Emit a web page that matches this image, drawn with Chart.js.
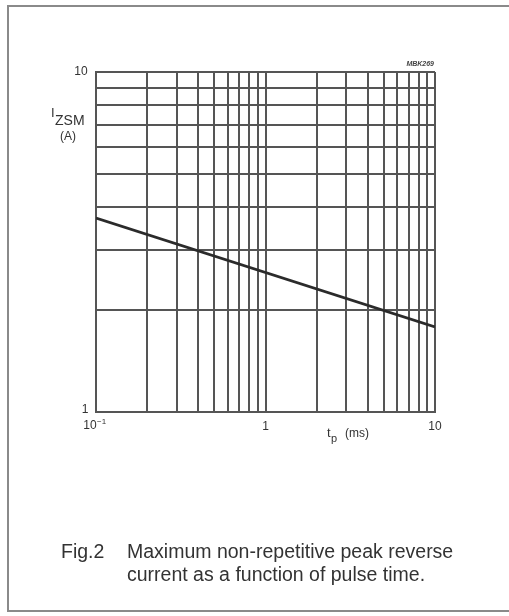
<!DOCTYPE html>
<html>
<head>
<meta charset="utf-8">
<script src="https://cdn.jsdelivr.net/npm/chart.js@4/dist/chart.umd.min.js"></script>
<style>
html,body{margin:0;padding:0;background:#fff;}
#wrap{position:relative;width:509px;height:616px;}
canvas{display:block;}
</style>
</head>
<body>
<div id="wrap"><canvas id="c" width="509" height="616"></canvas></div>
<script>
// Data (log-log straight line)
const pulseTimes = [0.1, 10];          // tp (ms)
const peakCurrent = [3.72, 1.78];      // IZSM (A)
const xGrid = [0.1,0.2,0.3,0.4,0.5,0.6,0.7,0.8,0.9,1,2,3,4,5,6,7,8,9,10];
const yGrid = [1,2,3,4,5,6,7,8,9,10];
const xTickLabels = [{v:1,t:'1'},{v:10,t:'10'}];
const yTickLabels = [{v:10,t:'10'},{v:1,t:'1'}];
const captionLabel = 'Fig.2';
const captionLines = ['Maximum non-repetitive peak reverse','current as a function of pulse time.'];
const chartCode = 'MBK269';

const FONT = '"Liberation Sans", Arial, Helvetica, sans-serif';
const gridColor = '#555555';

const overlay = {
  id: 'overlay',
  afterDraw(chart) {
    const ctx = chart.ctx;
    const xs = chart.scales.x, ys = chart.scales.y;
    const ca = chart.chartArea;
    ctx.save();
    // page frame
    ctx.strokeStyle = '#8a8a8a';
    ctx.lineWidth = 2;
    ctx.beginPath();
    ctx.moveTo(509, 6); ctx.lineTo(8, 6); ctx.lineTo(8, 611); ctx.lineTo(509, 611);
    ctx.stroke();
    ctx.fillStyle = '#333';
    // y tick labels
    ctx.font = '12px ' + FONT;
    ctx.textAlign = 'center'; ctx.textBaseline = 'middle';
    ctx.fillText(yTickLabels[0].t, 81, ys.getPixelForValue(yTickLabels[0].v));
    ctx.fillText(yTickLabels[1].t, 85, ys.getPixelForValue(yTickLabels[1].v) - 2);
    // x tick labels
    const x01 = xs.getPixelForValue(0.1);
    ctx.fillText('10', x01 - 6, ca.bottom + 14);
    ctx.font = '8px ' + FONT;
    ctx.textAlign = 'left';
    ctx.fillText('\u22121', x01 + 1, ca.bottom + 10);
    ctx.font = '12px ' + FONT;
    ctx.textAlign = 'center';
    xTickLabels.forEach(l => {
      ctx.fillText(l.t, xs.getPixelForValue(l.v), ca.bottom + 15);
    });
    // y axis title
    ctx.textAlign = 'left';
    ctx.font = '13px ' + FONT;
    ctx.fillText('I', 51, 113);
    ctx.font = '14px ' + FONT;
    ctx.fillText('ZSM', 55, 121);
    ctx.font = '12px ' + FONT;
    ctx.fillText('(A)', 60, 137);
    // x axis title
    ctx.font = '13px ' + FONT;
    ctx.fillText('t', 327, 433);
    ctx.font = '11px ' + FONT;
    ctx.fillText('p', 331, 439);
    ctx.font = '12px ' + FONT;
    ctx.fillText('(ms)', 345, 434);
    // code
    ctx.font = 'italic bold 7px ' + FONT;
    ctx.textAlign = 'right';
    ctx.fillStyle = '#444';
    ctx.fillText(chartCode, 434, 64);
    // caption
    ctx.fillStyle = '#333';
    ctx.font = '19.5px ' + FONT;
    ctx.textAlign = 'left';
    ctx.fillText(captionLabel, 61, 553);
    ctx.fillText(captionLines[0], 127, 553);
    ctx.fillText(captionLines[1], 127, 576);
    ctx.restore();
  }
};

new Chart(document.getElementById('c'), {
  type: 'line',
  data: {
    datasets: [{
      data: pulseTimes.map((t, i) => ({x: t, y: peakCurrent[i]})),
      borderColor: '#2b2b2b',
      borderWidth: 2.8,
      pointRadius: 0,
      fill: false,
      tension: 0
    }]
  },
  options: {
    responsive: false,
    animation: false,
    devicePixelRatio: 1,
    layout: { padding: { left: 96, top: 72, right: 74, bottom: 204 } },
    plugins: { legend: { display: false }, tooltip: { enabled: false } },
    scales: {
      x: {
        type: 'logarithmic', min: 0.1, max: 10,
        afterBuildTicks: s => { s.ticks = xGrid.map(v => ({value: v})); },
        ticks: { display: false },
        grid: { color: gridColor, lineWidth: 2, drawTicks: false },
        border: { color: gridColor, width: 2 }
      },
      y: {
        type: 'logarithmic', min: 1, max: 10,
        afterBuildTicks: s => { s.ticks = yGrid.map(v => ({value: v})); },
        ticks: { display: false },
        grid: { color: gridColor, lineWidth: 2, drawTicks: false },
        border: { color: gridColor, width: 2 }
      }
    }
  },
  plugins: [overlay]
});
</script>
</body>
</html>
